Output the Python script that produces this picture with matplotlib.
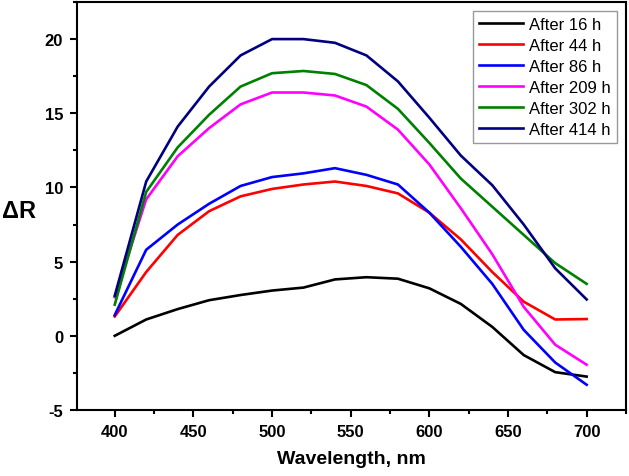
import matplotlib
matplotlib.use("Agg")
import matplotlib.pyplot as plt
from matplotlib.ticker import MultipleLocator

plt.rcParams["font.family"] = ["Liberation Sans", "DejaVu Sans"]
plt.rcParams["axes.unicode_minus"] = False

# wavelength grid, nm
wavelength = [400, 420, 440, 460, 480, 500, 520, 540, 560, 580, 600, 620, 640, 660, 680, 700]

after_16 = [0.0, 1.1, 1.8, 2.4, 2.75, 3.05, 3.25, 3.8, 3.95, 3.85, 3.2, 2.15, 0.6, -1.3, -2.45, -2.75]
after_44 = [1.3, 4.3, 6.8, 8.4, 9.4, 9.9, 10.2, 10.4, 10.1, 9.6, 8.3, 6.5, 4.3, 2.3, 1.1, 1.13]
after_86 = [1.4, 5.8, 7.5, 8.9, 10.1, 10.7, 10.95, 11.3, 10.85, 10.2, 8.3, 6.0, 3.5, 0.4, -1.8, -3.3]
after_209 = [2.6, 9.2, 12.1, 14.0, 15.6, 16.4, 16.4, 16.2, 15.45, 13.9, 11.55, 8.6, 5.5, 1.95, -0.6, -1.95]
after_302 = [2.1, 9.7, 12.7, 14.9, 16.8, 17.7, 17.85, 17.65, 16.9, 15.3, 13.0, 10.6, 8.7, 6.8, 4.9, 3.5]
after_414 = [2.7, 10.4, 14.1, 16.8, 18.9, 20.0, 20.0, 19.75, 18.9, 17.15, 14.7, 12.15, 10.15, 7.5, 4.55, 2.45]

series = [
    ("After 16 h", after_16, "black"),
    ("After 44 h", after_44, "#ff0000"),
    ("After 86 h", after_86, "#0000ff"),
    ("After 209 h", after_209, "#ff00ff"),
    ("After 302 h", after_302, "#008000"),
    ("After 414 h", after_414, "#000080"),
]

fig = plt.figure(figsize=(6.29, 4.77), dpi=100)
ax = fig.add_axes([0.1224, 0.1384, 0.8728, 0.8553])

for label, values, color in series:
    ax.plot(wavelength, values, color=color, lw=1.9, label=label)

ax.set_xlim(376, 725)
ax.set_ylim(-5, 22.5)
ax.xaxis.set_major_locator(MultipleLocator(50))
ax.xaxis.set_minor_locator(MultipleLocator(25))
ax.yaxis.set_major_locator(MultipleLocator(5))
ax.yaxis.set_minor_locator(MultipleLocator(2.5))
ax.xaxis.set_ticks_position("bottom")
ax.yaxis.set_ticks_position("left")

for side in ax.spines.values():
    side.set_linewidth(1.5)
ax.tick_params(which="major", direction="out", length=5, width=1.5,
               labelsize=12, pad=5)
ax.tick_params(which="minor", direction="out", length=3, width=1.5)
for lbl in ax.get_xticklabels() + ax.get_yticklabels():
    lbl.set_fontweight("bold")

ax.set_xlabel("Wavelength, nm", fontsize=14, fontweight="bold", labelpad=8)
ax.set_ylabel("ΔR", fontsize=17, fontweight="bold", rotation=0)
ax.yaxis.set_label_coords(-0.106, 0.46)

leg = ax.legend(loc="upper right", fontsize=12, frameon=True, fancybox=False,
                handlelength=2.6, handletextpad=0.4, labelspacing=0.36,
                borderaxespad=0.55, borderpad=0.35)
leg.get_frame().set_edgecolor("#808080")
leg.get_frame().set_linewidth(1.0)

fig.savefig("out.png", dpi=100, facecolor="white")
